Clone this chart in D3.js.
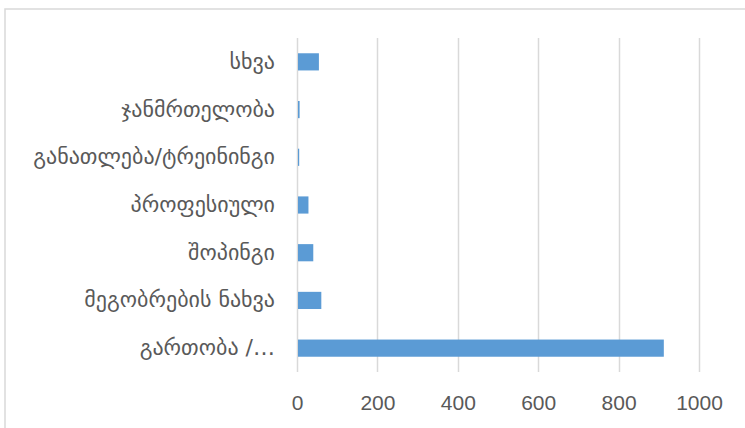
<!DOCTYPE html>
<html>
<head>
<meta charset="utf-8">
<script src="https://cdn.jsdelivr.net/npm/d3@7"></script>
<style>
  html, body { margin: 0; padding: 0; background: #fff; }
  svg { display: block; }
</style>
</head>
<body>
<svg id="chart" width="745" height="428"></svg>
<script>
const categories = ["სხვა", "ჯანმრთელობა", "განათლება/ტრეინინგი", "პროფესიული", "შოპინგი", "მეგობრების ნახვა", "გართობა /…"];
const values = [52, 4, 3, 26, 38, 58, 910];
const tickValues = [0, 200, 400, 600, 800, 1000];

const svg = d3.select("#chart");
const W = 745, H = 428;
const margin = { left: 297, right: 46, top: 38, bottom: 56 };

// chart frame border
svg.append("rect")
  .attr("x", 5).attr("y", 9)
  .attr("width", W + 10).attr("height", H + 10)
  .attr("fill", "#fff").attr("stroke", "#d9d9d9").attr("stroke-width", 1.5);

const x = d3.scaleLinear().domain([0, 1000]).range([margin.left, W - margin.right]);
const y = d3.scaleBand().domain(categories).range([margin.top, H - margin.bottom]).paddingInner(0.64).paddingOuter(0.32);

// gridlines
svg.append("g").selectAll("line").data(tickValues).join("line")
  .attr("x1", d => Math.round(x(d)) + 0.5).attr("x2", d => Math.round(x(d)) + 0.5)
  .attr("y1", margin.top).attr("y2", H - margin.bottom)
  .attr("stroke", "#d9d9d9").attr("stroke-width", 1.5);

// bars
svg.append("g").selectAll("rect").data(categories).join("rect")
  .attr("x", x(0) + 1)
  .attr("y", d => y(d))
  .attr("width", (d, i) => Math.max(0, x(values[i]) - x(0)))
  .attr("height", y.bandwidth())
  .attr("fill", "#5b9bd5");

// x axis labels
const xAxis = d3.axisBottom(x).tickValues(tickValues).tickSize(0).tickPadding(0).tickFormat(d3.format("d"));
const gx = svg.append("g").attr("transform", `translate(0,${H - margin.bottom})`).call(xAxis);
gx.select(".domain").remove();
gx.selectAll("text")
  .attr("dy", null).attr("y", 38)
  .attr("font-family", "'Liberation Sans', Arial, sans-serif")
  .attr("font-size", 21).attr("fill", "#595959");

// y axis labels
const yAxis = d3.axisLeft(y).tickSize(0).tickPadding(0);
const gy = svg.append("g").attr("transform", `translate(275,0)`).call(yAxis);
gy.select(".domain").remove();
gy.selectAll("text")
  .attr("font-family", "'DejaVu Sans', 'Noto Sans', sans-serif")
  .attr("font-size", 22).attr("fill", "#595959");
</script>
</body>
</html>
